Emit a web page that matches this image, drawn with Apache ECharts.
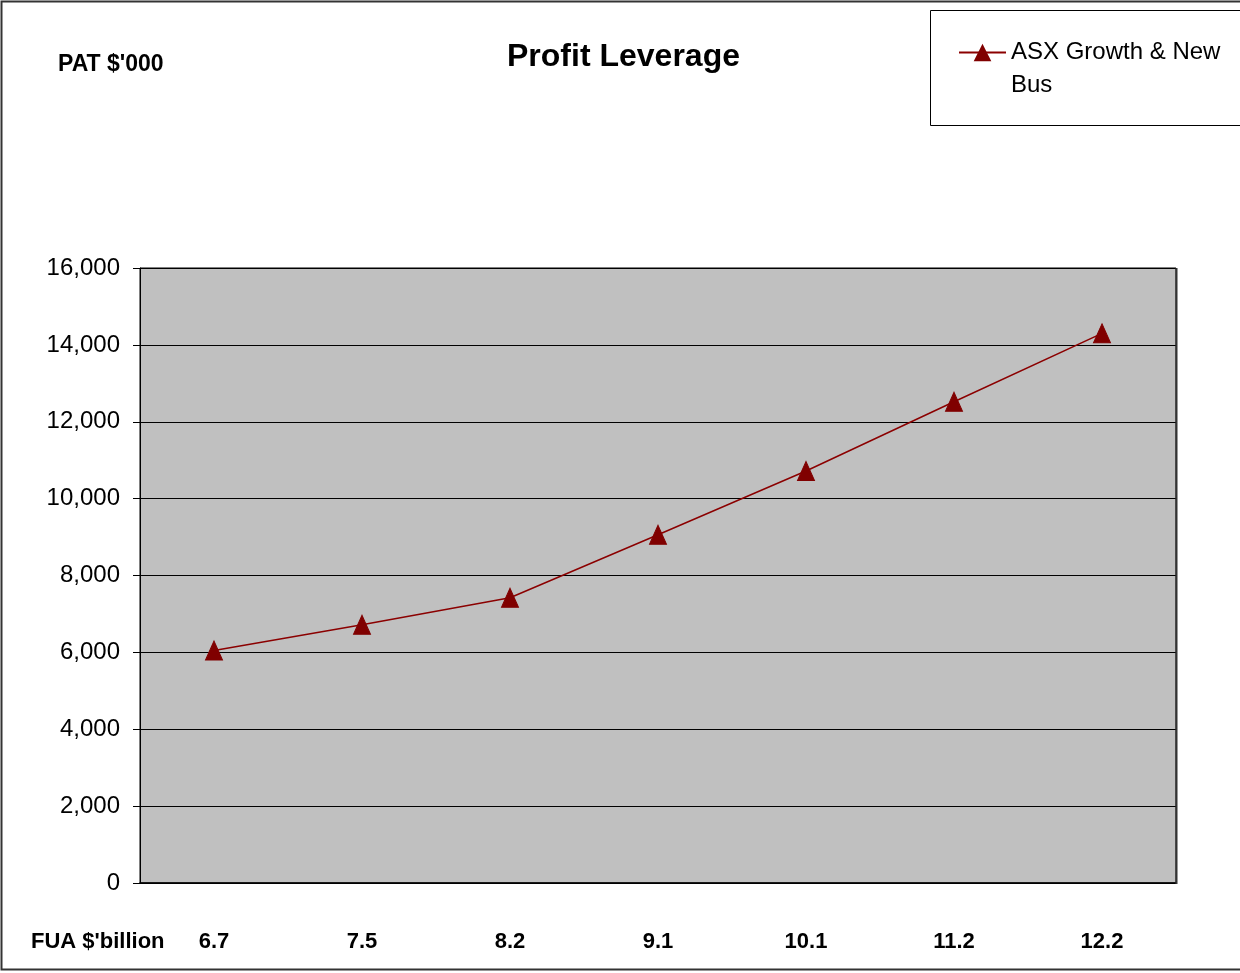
<!DOCTYPE html>
<html>
<head>
<meta charset="utf-8">
<script src="https://cdn.jsdelivr.net/npm/echarts@6/dist/echarts.min.js"></script>
<style>
html,body{margin:0;padding:0;background:#fff;}
#c{width:1240px;height:973px;}
</style>
</head>
<body>
<div id="c"></div>
<script>
const categories = ['6.7', '7.5', '8.2', '9.1', '10.1', '11.2', '12.2'];
const profitValues = [6050, 6720, 7420, 9060, 10720, 12520, 14300];
const seriesName = 'ASX Growth & New Bus';
const yTicks = { min: 0, max: 16000, interval: 2000 };

const FONT = '"Liberation Sans", Arial, sans-serif';
const chart = echarts.init(document.getElementById('c'), null, { renderer: 'canvas' });
chart.setOption({
  backgroundColor: '#fff',
  animation: false,
  title: {
    text: 'Profit Leverage',
    left: 507,
    top: 41,
    padding: 0,
    textStyle: { fontFamily: FONT, fontSize: 32, fontWeight: 'bold', color: '#000' }
  },
  legend: {
    data: [seriesName],
    left: 958,
    top: 3,
    padding: 0,
    itemWidth: 47,
    itemHeight: 22,
    itemGap: 0,
    formatter: function () { return ' \nASX Growth & New\nBus'; },
    textStyle: { fontFamily: FONT, fontSize: 24, color: '#000', lineHeight: 33 }
  },
  grid: {
    left: 140, right: 64, top: 268, bottom: 90,
    show: true,
    backgroundColor: '#c0c0c0',
    borderColor: '#000',
    borderWidth: 1
  },
  xAxis: {
    type: 'category',
    data: categories,
    boundaryGap: true,
    axisLine: { show: true, lineStyle: { color: '#000', width: 1.5 } },
    axisTick: { show: false },
    axisLabel: { margin: 48, fontFamily: FONT, fontSize: 22, fontWeight: 'bold', color: '#000' }
  },
  yAxis: {
    type: 'value',
    min: yTicks.min, max: yTicks.max, interval: yTicks.interval,
    axisLine: { show: true, lineStyle: { color: '#000', width: 1 } },
    axisTick: { show: true, inside: false, length: 7, lineStyle: { color: '#000' } },
    splitLine: { show: true, lineStyle: { color: '#000', width: 1 } },
    axisLabel: {
      margin: 20, fontFamily: FONT, fontSize: 24, color: '#000',
      formatter: function (v) { return v.toLocaleString('en-US'); }
    }
  },
  series: [{
    name: seriesName,
    type: 'line',
    data: profitValues,
    symbol: 'triangle',
    symbolSize: [17, 19],
    showAllSymbol: true,
    lineStyle: { color: '#8b0000', width: 1.5 },
    itemStyle: { color: '#800000', borderColor: '#800000' }
  }],
  graphic: [
    { type: 'rect', shape: { x: 1.5, y: 1.5, width: 1260, height: 968 }, style: { fill: 'none', stroke: '#333', lineWidth: 2 }, silent: true },
    { type: 'rect', shape: { x: 930.5, y: 10.5, width: 330, height: 115 }, style: { fill: '#fff', stroke: '#000', lineWidth: 1 }, z: -1, silent: true },
    { type: 'line', shape: { x1: 1176.5, y1: 268, x2: 1176.5, y2: 884 }, style: { stroke: '#333', lineWidth: 2 }, silent: true, z: 10 },
    { type: 'text', left: 58, top: 53, style: { text: "PAT $'000", fontFamily: FONT, fontSize: 23, fontWeight: 'bold', fill: '#000' } },
    { type: 'text', left: 31, top: 931, style: { text: "FUA $'billion", fontFamily: FONT, fontSize: 22, fontWeight: 'bold', fill: '#000' } }
  ]
});
</script>
</body>
</html>
